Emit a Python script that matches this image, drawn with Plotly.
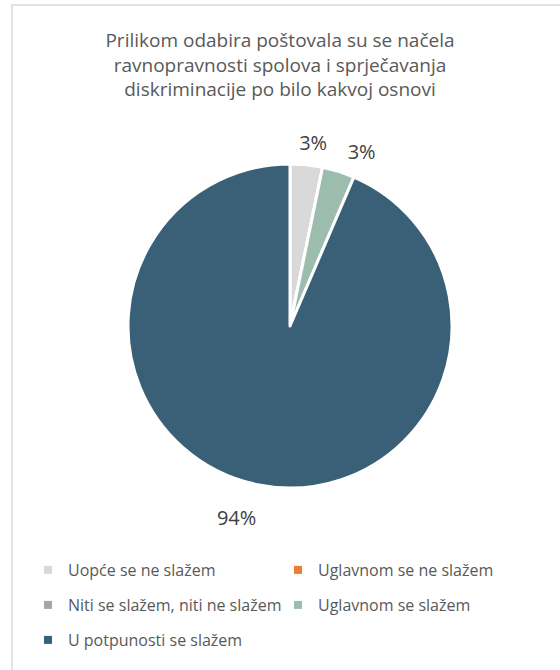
import plotly.graph_objects as go

# 数据
labels = ['Uopće se ne slažem', 'Uglavnom se ne slažem', 'Niti se slažem, niti ne slažem',
          'Uglavnom se slažem', 'U potpunosti se slažem']
values = [1, 0, 0, 1, 29]
colors = ['#D9D9D9', '#ED7D31', '#A5A5A5', '#9CBCAD', '#3A6078']
title_text = ('Prilikom odabira poštovala su se načela<br>'
              'ravnopravnosti spolova i sprječavanja<br>'
              'diskriminacije po bilo kakvoj osnovi')

total = sum(values)
pct_text = ['' if v == 0 else f'{round(100 * v / total)}%' for v in values]

W, H = 560, 670
cx, cy = 290, 326   # 饼图中心（像素）
# 标签层的半径和旋转微调（每个标签一层）
label_r = {0: 170, 3: 170, 4: 180}
label_rot = {0: -5, 3: 0, 4: -3}


def dom(r):
    return dict(x=[(cx - r) / W, (cx + r) / W], y=[1 - (cy + r) / H, 1 - (cy - r) / H])


fig = go.Figure()

# 透明的大饼图，只用来放百分比标签（每个标签单独一层，避免互相挤开）
for i, t in enumerate(pct_text):
    if not t:
        continue
    fig.add_trace(go.Pie(
        labels=labels, values=values,
        text=[t if j == i else '' for j in range(len(values))], textinfo='text',
        textposition='outside', sort=False, direction='clockwise', rotation=label_rot[i],
        marker=dict(colors=['rgba(0,0,0,0)'] * len(values), line=dict(width=0)),
        textfont=dict(family='Open Sans', size=20, color='#404040'),
        domain=dom(label_r[i]), showlegend=False, hoverinfo='skip',
    ))

# 真正的饼图
fig.add_trace(go.Pie(
    labels=labels, values=values, textinfo='none',
    sort=False, direction='clockwise', rotation=0,
    marker=dict(colors=colors, line=dict(color='white', width=3)),
    domain=dom(162), showlegend=False, hoverinfo='label+percent',
))

# 图例：三行，每行一个 legend
rows = [[0, 1], [2, 3], [4]]
row_y = [570, 605, 640]
legend_names = ['legend', 'legend2', 'legend3']
for row, lname in zip(rows, legend_names):
    for i in row:
        fig.add_trace(go.Scatter(
            x=[None], y=[None], mode='markers', name=labels[i], legend=lname,
            marker=dict(symbol='square', size=8, color=colors[i]),
        ))

legend_style = dict(orientation='h', x=28 / W, xanchor='left', yanchor='middle',
                    entrywidth=205, entrywidthmode='pixels', bgcolor='rgba(0,0,0,0)',
                    font=dict(family='Open Sans', size=16, color='#595959'),
                    itemclick=False, itemdoubleclick=False)

fig.update_layout(
    width=W, height=H,
    margin=dict(l=0, r=0, t=0, b=0),
    paper_bgcolor='white', plot_bgcolor='white',
    xaxis=dict(visible=False), yaxis=dict(visible=False),
    title=dict(text=title_text, x=0.5, xanchor='center', y=1 - 47 / H, yanchor='top',
               font=dict(family='Open Sans', size=19, color='#595959')),
    legend=dict(legend_style, y=1 - row_y[0] / H),
    legend2=dict(legend_style, y=1 - row_y[1] / H),
    legend3=dict(legend_style, y=1 - row_y[2] / H),
    # 外框只露出左边和上边
    shapes=[dict(type='path', xref='paper', yref='paper',
                 path=f'M {12 / W},-0.2 L {12 / W},{1 - 5 / H} L 1.2,{1 - 5 / H}',
                 line=dict(color='#D9D9D9', width=1.5))],
)

fig.write_html("out.html", config={'displayModeBar': False},
               post_script="document.body.style.margin='0';document.body.style.overflow='hidden';")
